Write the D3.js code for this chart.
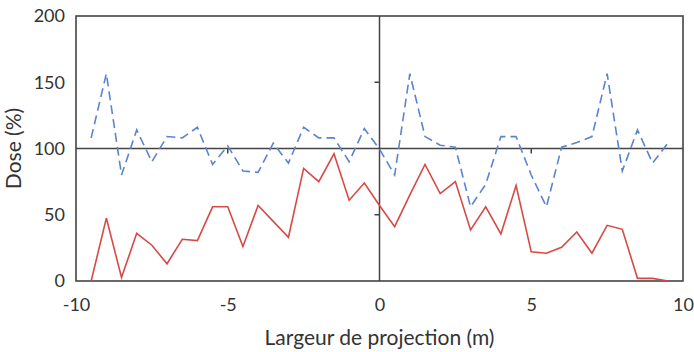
<!DOCTYPE html>
<html>
<head>
<meta charset="utf-8">
<script src="https://cdn.jsdelivr.net/npm/d3@7"></script>
<style>
  body { margin: 0; background: #fff; }
  svg text { font-family: Lato, "Open Sans", sans-serif; fill: #333; }
</style>
</head>
<body>
<div id="chart"></div>
<script>
// positions across the projection (m)
const positions = [-9.5, -9, -8.5, -8, -7.5, -7, -6.5, -6, -5.5, -5, -4.5, -4, -3.5, -3, -2.5, -2, -1.5, -1, -0.5,
  0, 0.5, 1, 1.5, 2, 2.5, 3, 3.5, 4, 4.5, 5, 5.5, 6, 6.5, 7, 7.5, 8, 8.5, 9, 9.5];

// red solid series
const doseRed = [0, 47.5, 2.6, 36, 27, 13, 31.5, 30.5, 56, 56, 26, 57, 45, 33, 85, 75, 96, 61, 74,
  57, 41, 65, 88, 66, 75, 38.5, 56, 35.5, 72, 22, 21, 25.5, 37, 21, 42, 39, 2, 2, 0];

// blue dashed series
const doseBlue = [108, 156.5, 80, 114, 90, 109, 108, 116, 88, 102, 83, 82, 104, 89, 116, 108, 108, 90, 115,
  99.5, 80, 156.5, 109, 102.5, 101, 56, 73, 109, 109, 80, 56, 101, 104.5, 109, 156.5, 83, 114, 89, 104];

const xTicks = [-10, -5, 0, 5, 10];
const yTicks = [0, 50, 100, 150, 200];

const W = 694, H = 352;
const margin = { top: 16, right: 11, bottom: 71, left: 76 };

const svg = d3.select("#chart").append("svg")
  .attr("width", W)
  .attr("height", H);

const x = d3.scaleLinear().domain([-10, 10]).range([margin.left, W - margin.right]);
const y = d3.scaleLinear().domain([0, 200]).range([H - margin.bottom, margin.top]);

const lineColor = "#444";

// y tick labels
svg.append("g")
  .attr("transform", "translate(" + margin.left + ",0)")
  .call(d3.axisLeft(y).tickValues(yTicks).tickSize(0).tickPadding(11))
  .call(g => g.select(".domain").remove())
  .selectAll("text")
  .style("font-size", "18px");

// x tick labels (plain hyphen as in the original)
svg.append("g")
  .attr("transform", "translate(0," + (H - margin.bottom) + ")")
  .call(d3.axisBottom(x).tickValues(xTicks).tickFormat(d => String(d)).tickSize(0).tickPadding(17))
  .call(g => g.select(".domain").remove())
  .selectAll("text")
  .style("font-size", "18px");

// frame
svg.append("rect")
  .attr("x", x(-10))
  .attr("y", y(200))
  .attr("width", x(10) - x(-10))
  .attr("height", y(0) - y(200))
  .attr("fill", "none")
  .attr("stroke", lineColor)
  .attr("stroke-width", 1.6);

// cross axes at x = 0 and dose = 100
svg.append("line")
  .attr("x1", x(0)).attr("x2", x(0))
  .attr("y1", y(0)).attr("y2", y(200))
  .attr("stroke", lineColor).attr("stroke-width", 1.5);

svg.append("line")
  .attr("x1", x(-10)).attr("x2", x(10))
  .attr("y1", y(100)).attr("y2", y(100))
  .attr("stroke", lineColor).attr("stroke-width", 1.5);

// small ticks on the cross axes
svg.selectAll(".ytick").data([50, 150]).enter().append("line")
  .attr("x1", x(0) - 5).attr("x2", x(0))
  .attr("y1", d => y(d)).attr("y2", d => y(d))
  .attr("stroke", lineColor).attr("stroke-width", 1.5);

svg.selectAll(".xtick").data([-5, 5]).enter().append("line")
  .attr("x1", d => x(d)).attr("x2", d => x(d))
  .attr("y1", y(100)).attr("y2", y(100) + 5)
  .attr("stroke", lineColor).attr("stroke-width", 1.5);

const line = d3.line()
  .x((d, i) => x(positions[i]))
  .y(d => y(d));

svg.append("path")
  .datum(doseBlue)
  .attr("d", line)
  .attr("fill", "none")
  .attr("stroke", "#5b84d0")
  .attr("stroke-width", 1.6)
  .attr("stroke-dasharray", "9,5");

svg.append("path")
  .datum(doseRed)
  .attr("d", line)
  .attr("fill", "none")
  .attr("stroke", "#d64a46")
  .attr("stroke-width", 1.6);

// axis titles
svg.append("text")
  .attr("x", x(0))
  .attr("y", 345)
  .attr("text-anchor", "middle")
  .style("font-size", "21px")
  .text("Largeur de projection (m)");

svg.append("text")
  .attr("transform", "translate(21," + y(100) + ") rotate(-90)")
  .attr("text-anchor", "middle")
  .style("font-size", "21px")
  .text("Dose (%)");
</script>
</body>
</html>
